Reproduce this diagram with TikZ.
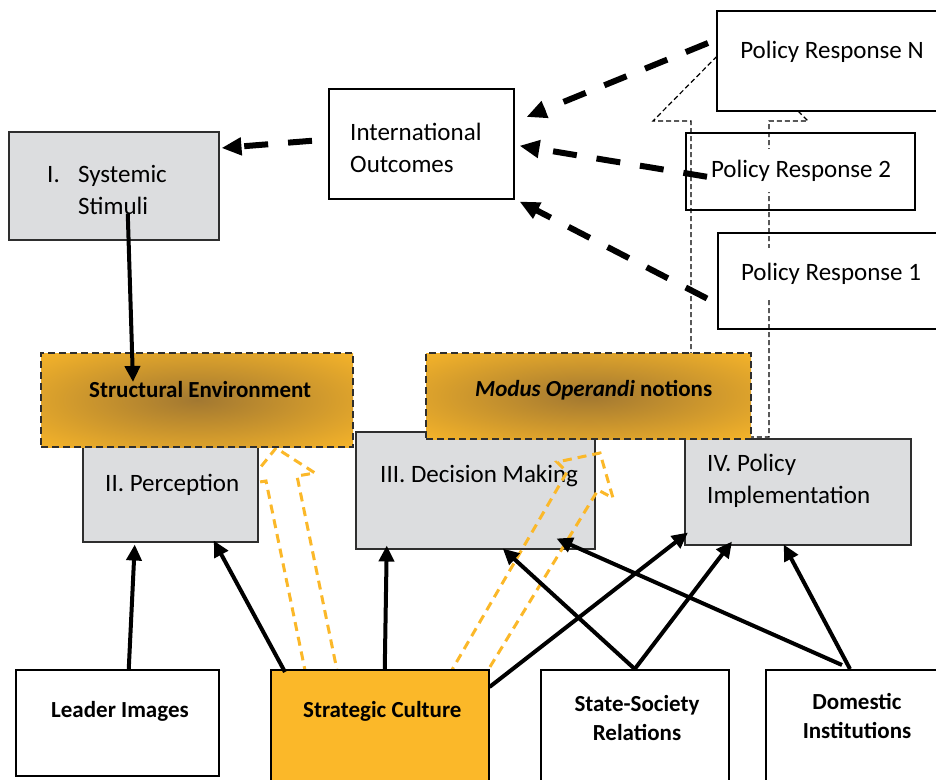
\documentclass[tikz,border=0pt]{standalone}
\usepackage{fontspec}
\setmainfont{Carlito}
\usetikzlibrary{arrows.meta,positioning}

\definecolor{boxgray}{HTML}{DCDDDF}
\definecolor{gold}{HTML}{FBB829}
\definecolor{ochre}{HTML}{A27831}
\definecolor{inkgray}{HTML}{2E2E2E}
\pgfdeclareradialshading{goldglow}{\pgfpoint{0bp}{0bp}}{color(0bp)=(ochre); color(38bp)=(gold); color(50bp)=(gold)}

\tikzset{
  plainbox/.style={draw=black, line width=1.5pt, anchor=north west, inner sep=0pt},
  graybox/.style={plainbox, draw=inkgray, fill=boxgray, line width=1.5pt},
  glowbox/.style={plainbox, draw=inkgray, line width=2pt, dash pattern=on 7pt off 4pt, shading=goldglow},
  goldbox/.style={plainbox, fill=gold},
  txt/.style={inner sep=0pt, font=\fontsize{25}{32}\selectfont},
  boldtxt/.style={inner sep=0pt, font=\fontsize{23}{29}\selectfont\bfseries},
  link/.style={line width=4pt, -{Triangle[length=16pt,width=15pt]}},
  feedback/.style={line width=6pt, dash pattern=on 24pt off 20pt, -{Triangle[length=20pt,width=17pt]}},
  loopback/.style={line width=1.2pt, dash pattern=on 5pt off 3pt},
  culture/.style={draw=gold, line width=3pt, dash pattern=on 9pt off 6pt}
}

\begin{document}
\begin{tikzpicture}[x=1pt,y=-1pt]
\clip (0,0) rectangle (936,779);

% feedback block arrow behind the responses
\draw[loopback] (691,437) -- (691,121) -- (653,121) -- (730,43) -- (808,121) -- (769,121) -- (769,437) -- cycle;

% policy responses
\node[plainbox, fill=white, minimum width=230pt, minimum height=100pt] (prn) at (716,10) {};
\node[plainbox, minimum width=229pt, minimum height=77pt] (pr2) at (685,132) {};
\node[plainbox, minimum width=229pt, minimum height=96pt] (pr1) at (717,232) {};
\node[txt, anchor=base] (prntxt) at (832,58) {Policy Response N};
\node[txt, anchor=base, fill=white, inner xsep=8pt, inner ysep=11pt] (pr2txt) at (801,177) {Policy Response 2};
\node[txt, anchor=base, fill=white, inner xsep=8pt, inner ysep=15pt] (pr1txt) at (831,280) {Policy Response 1};

% outcomes and stimuli
\node[plainbox, fill=white, minimum width=185pt, minimum height=110pt] (outc) at (328,88) {};
\node[txt, anchor=base west, align=left] (outctxt) at (350,172) {International\\Outcomes};
\node[graybox, minimum width=210pt, minimum height=108pt] (sys) at (8,131) {};
\node[txt, anchor=base west, align=left] (systxt) at (47,214) {\makebox[31pt][l]{I.}Systemic\\\hspace*{31pt}Stimuli};

% strategic culture block arrow to perception
\draw[culture] (306,675) -- (266,481) -- (247,484) -- (276,448) -- (315,473) -- (297,476) -- (338,675) -- cycle;

% stages
\node[graybox, minimum width=175pt, minimum height=95pt] (perc) at (82,446) {};
\node[txt, anchor=base west] (perctxt) at (105,491) {II. Perception};
\node[graybox, minimum width=239pt, minimum height=117pt] (decm) at (355,431) {};
\node[txt, anchor=base west] (decmtxt) at (380,482) {III. Decision Making};
\node[graybox, minimum width=226pt, minimum height=106pt] (impl) at (684,438) {};
\node[txt, anchor=base west, align=left] (impltxt) at (707,503) {IV. Policy\\Implementation};

% filters
\node[glowbox, minimum width=312pt, minimum height=94pt] (strenv) at (40,352) {};
\node[boldtxt, anchor=base west] (strenvtxt) at (89,397) {Structural Environment};
\node[glowbox, minimum width=325pt, minimum height=86pt] (modus) at (425,352) {};
\node[boldtxt, anchor=base west] (modustxt) at (475,396) {\textit{Modus Operandi} notions};

% strategic culture block arrow to decision making
\draw[culture] (449,675) -- (567,472) -- (557,462) -- (600,453) -- (613,498) -- (598,490) -- (485,675) -- cycle;

% domestic variables
\node[plainbox, fill=white, minimum width=203pt, minimum height=106pt] (leader) at (15,669) {};
\node[boldtxt, anchor=base west] (leadtxt) at (51,717) {Leader Images};
\node[goldbox, minimum width=218pt, minimum height=120pt] (strat) at (270,669) {};
\node[boldtxt, anchor=base west] (strattxt) at (303,717) {Strategic Culture};
\node[plainbox, fill=white, minimum width=188pt, minimum height=120pt] (ssr) at (540,669) {};
\node[boldtxt, anchor=base, align=center] (ssrtxt) at (637,740) {State-Society\\Relations};
\node[plainbox, fill=white, minimum width=190pt, minimum height=120pt] (dom) at (765,669) {};
\node[boldtxt, anchor=base, align=center] (domtxt) at (857,738) {Domestic\\Institutions};

% solid links
\draw[link] ([xshift=14pt,yshift=27pt]sys.south) -- ([xshift=93pt,yshift=-30pt]strenv.north west);
\draw[link] ([xshift=11.5pt]leader.north) -- ([xshift=-35.5pt,yshift=-2pt]perc.south);
\draw[link] ([xshift=15pt,yshift=-3pt]strat.north west) -- ([xshift=43.5pt,yshift=2pt]perc.south);
\draw[link] ([xshift=5pt]strat.north) -- ([xshift=-88.5pt,yshift=4pt]decm.south);
\draw[link] ([yshift=-18pt]strat.north east) -- ([xshift=4pt,yshift=13pt]impl.south west);
\draw[link] (ssr.north) -- ([xshift=27.5pt,yshift=1pt]decm.south);
\draw[link] (ssr.north) -- ([xshift=48pt,yshift=4pt]impl.south west);
\draw[link] ([xshift=77pt,yshift=4pt]dom.north west) -- ([xshift=-39pt,yshift=11pt]decm.south east);
\draw[link] ([xshift=85pt]dom.north west) -- ([xshift=-14pt,yshift=1pt]impl.south);

% feedback links
\draw[feedback] ([xshift=-16pt,yshift=3pt]outc.west) -- ([xshift=2pt,yshift=-17pt]sys.north east);
\draw[feedback] ([xshift=-8pt,yshift=-33pt]prn.north west) -- ([xshift=12pt,yshift=-29pt]outc.north east);
\draw[feedback] ([xshift=22pt,yshift=-5.5pt]pr2.west) -- ([xshift=5pt,yshift=-2pt]outc.east);
\draw[feedback] ([xshift=-10pt,yshift=31pt]pr1.south west) -- ([xshift=5pt,yshift=-2pt]outc.south east);
\end{tikzpicture}
\end{document}
